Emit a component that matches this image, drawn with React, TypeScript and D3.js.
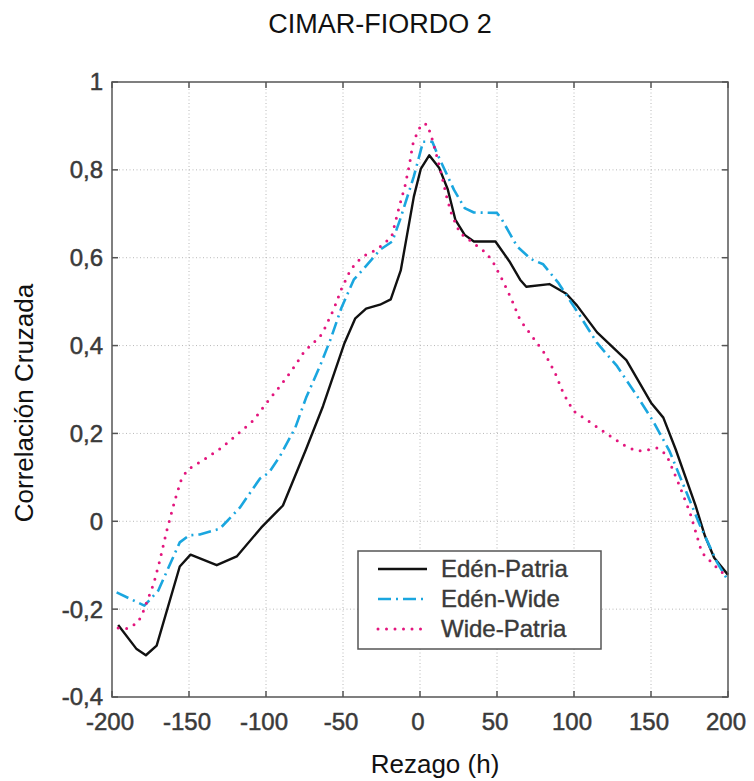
import * as d3 from 'd3';

// Edén-Patria (solid black)
const lagEdenPatria = [-196, -184, -178, -171, -156, -149, -132, -119, -103, -89, -74, -63, -49, -42, -35, -26, -19, -12.5, -4, 0.5, 6, 12.5, 18, 23, 29, 35, 49, 58, 65, 69, 84, 95, 102, 115, 134, 150, 158, 166, 179, 185, 191, 200];
const corrEdenPatria = [-0.236, -0.291, -0.305, -0.283, -0.103, -0.076, -0.1, -0.08, -0.014, 0.036, 0.164, 0.262, 0.406, 0.462, 0.484, 0.493, 0.505, 0.571, 0.739, 0.802, 0.833, 0.804, 0.756, 0.686, 0.652, 0.637, 0.637, 0.592, 0.55, 0.534, 0.54, 0.518, 0.491, 0.43, 0.367, 0.27, 0.236, 0.164, 0.035, -0.033, -0.083, -0.122];

// Edén-Wide (dash-dot blue)
const lagEdenWide = [-197, -179, -170, -156, -150, -143, -130, -117, -104, -98, -91, -81, -74, -65, -58, -51, -43, -37, -26, -18, -13, -4, 2, 8, 11, 22, 29, 35, 50, 53, 63, 72, 80, 90, 104, 115, 128, 141, 151, 162, 182, 193, 200];
const corrEdenWide = [-0.162, -0.192, -0.158, -0.048, -0.032, -0.03, -0.017, 0.031, 0.097, 0.111, 0.148, 0.213, 0.281, 0.353, 0.415, 0.486, 0.55, 0.573, 0.618, 0.637, 0.686, 0.785, 0.864, 0.864, 0.838, 0.755, 0.713, 0.703, 0.702, 0.688, 0.626, 0.597, 0.585, 0.542, 0.467, 0.406, 0.353, 0.285, 0.23, 0.16, -0.011, -0.094, -0.135];

// Wide-Patria (dotted magenta)
const lagWidePatria = [-196, -189, -183, -180, -173, -169, -164.5, -159, -155, -151, -140, -129, -118, -108, -100, -91, -83, -75, -65, -62, -56, -51, -45, -40.5, -35, -29, -24, -18.4, -13.4, -9.7, -6.9, -4.7, -2.1, 1, 4.5, 7, 10.4, 14, 17.3, 20.6, 26, 32.5, 43, 47.6, 54, 59.5, 65, 73, 81, 87.7, 93, 99.6, 111.5, 123, 134, 141, 147.6, 154, 160, 167.7, 175.3, 183, 192.6, 200];
const corrWidePatria = [-0.243, -0.244, -0.229, -0.208, -0.143, -0.09, -0.022, 0.05, 0.095, 0.117, 0.141, 0.167, 0.2, 0.23, 0.268, 0.307, 0.345, 0.387, 0.42, 0.438, 0.483, 0.529, 0.573, 0.592, 0.607, 0.617, 0.63, 0.648, 0.717, 0.764, 0.811, 0.858, 0.882, 0.904, 0.904, 0.881, 0.838, 0.789, 0.739, 0.698, 0.656, 0.639, 0.611, 0.589, 0.546, 0.505, 0.458, 0.42, 0.382, 0.338, 0.292, 0.251, 0.223, 0.195, 0.17, 0.16, 0.162, 0.167, 0.152, 0.088, 0.02, -0.071, -0.105, -0.128];

const xTicks = [-200, -150, -100, -50, 0, 50, 100, 150, 200];
const yTicks = [-0.4, -0.2, 0, 0.2, 0.4, 0.6, 0.8, 1];
const legendLabels = ['Edén-Patria', 'Edén-Wide', 'Wide-Patria'];

const W = 754;
const H = 781;
const left = 112, right = 728, top = 82, bottom = 697;

const x = d3.scaleLinear().domain([-200, 200]).range([left, right]);
const y = d3.scaleLinear().domain([-0.4, 1]).range([bottom, top]);

const fmtY = (v: number) => {
  const r = Math.round(v * 10) / 10;
  if (r === 0) return '0';
  if (r === 1) return '1';
  return r.toFixed(1).replace('.', ',');
};

const styles = [
  { color: '#111111', dash: undefined as string | undefined, width: 2.4, cap: 'butt' },
  { color: '#1aa6df', dash: '13 5 2 5', width: 2.6, cap: 'butt' },
  { color: '#e3157d', dash: '0 8.5', width: 3, cap: 'round' },
];

export default function App() {
  const series = [
    { lag: lagEdenPatria, val: corrEdenPatria },
    { lag: lagEdenWide, val: corrEdenWide },
    { lag: lagWidePatria, val: corrWidePatria },
  ];

  const paths = series.map(s => {
    const pts: [number, number][] = s.lag.map((l, i) => [x(l), y(s.val[i])]);
    return d3.line()(pts) || '';
  });

  const font = '"Liberation Sans", Arial, sans-serif';
  const lx = 358, ly = 551, lw = 243, lh = 98;
  const tickFill = '#3a3a3a';

  return (
    <svg width={W} height={H} style={{ position: 'absolute', left: 0, top: 0, background: '#fff' }} fontFamily={font}>
      <rect x={0} y={0} width={W} height={H} fill="#fff" />
      <text x={380} y={33} textAnchor="middle" fontSize={27} fill="#111">CIMAR-FIORDO 2</text>

      {/* grid */}
      <g stroke="#b8b8b8" strokeWidth={1} strokeDasharray="1 2.5">
        {xTicks.slice(1, -1).map(t => (
          <line key={'gx' + t} x1={x(t)} x2={x(t)} y1={top} y2={bottom} />
        ))}
        {yTicks.slice(1, -1).map(t => (
          <line key={'gy' + t} x1={left} x2={right} y1={y(t)} y2={y(t)} />
        ))}
      </g>

      {/* series */}
      {paths.map((d, i) => (
        <path
          key={i}
          d={d}
          fill="none"
          stroke={styles[i].color}
          strokeWidth={styles[i].width}
          strokeDasharray={styles[i].dash}
          strokeLinecap={styles[i].cap as any}
          strokeLinejoin="round"
        />
      ))}

      {/* frame and ticks */}
      <rect x={left} y={top} width={right - left} height={bottom - top} fill="none" stroke="#555" strokeWidth={1.5} />
      <g stroke="#555" strokeWidth={1.5}>
        {xTicks.map(t => (
          <g key={'tx' + t}>
            <line x1={x(t)} x2={x(t)} y1={bottom} y2={bottom - 6} />
            <line x1={x(t)} x2={x(t)} y1={top} y2={top + 6} />
          </g>
        ))}
        {yTicks.map(t => (
          <g key={'ty' + t}>
            <line x1={left} x2={left + 6} y1={y(t)} y2={y(t)} />
            <line x1={right} x2={right - 6} y1={y(t)} y2={y(t)} />
          </g>
        ))}
      </g>

      {/* tick labels */}
      <g fontSize={24} fill={tickFill} stroke={tickFill} strokeWidth={0.5}>
        {xTicks.map(t => (
          <text key={'lx' + t} x={x(t) - 2} y={730} textAnchor="middle">{String(t)}</text>
        ))}
        {yTicks.map(t => (
          <text key={'ly' + t} x={103} y={y(t)} dy="0.35em" textAnchor="end">{fmtY(t)}</text>
        ))}
      </g>

      {/* axis titles */}
      <text x={435} y={773} textAnchor="middle" fontSize={26} fill="#111">Rezago (h)</text>
      <text transform="translate(33,403) rotate(-90)" textAnchor="middle" fontSize={26} fill="#111">Correlación Cruzada</text>

      {/* legend */}
      <rect x={lx} y={ly} width={lw} height={lh} fill="#fff" stroke="#555" strokeWidth={1.5} />
      {legendLabels.map((lab, i) => {
        const yy = ly + 18 + i * 30;
        return (
          <g key={lab}>
            <line
              x1={378}
              x2={427}
              y1={yy}
              y2={yy}
              stroke={styles[i].color}
              strokeWidth={styles[i].width}
              strokeDasharray={styles[i].dash}
              strokeLinecap={styles[i].cap as any}
            />
            <text x={441} y={yy} dy="0.35em" fontSize={24} fill={tickFill} stroke={tickFill} strokeWidth={0.4}>{lab}</text>
          </g>
        );
      })}
    </svg>
  );
}
